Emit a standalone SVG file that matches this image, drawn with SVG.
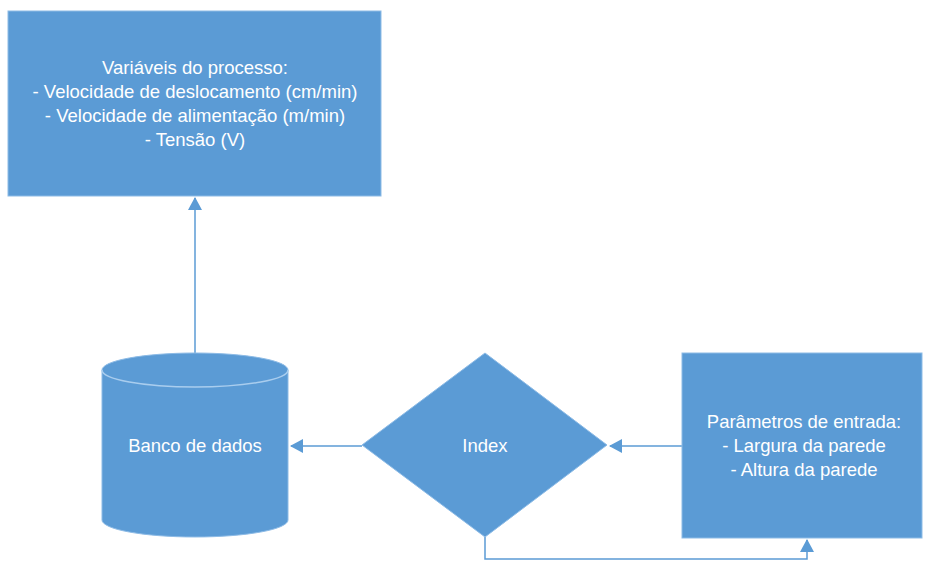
<svg xmlns="http://www.w3.org/2000/svg" width="926" height="561" viewBox="0 0 926 561">
<defs>
<style>
.shape{fill:#5B9BD5;stroke:#8DBBE6;stroke-width:1}
.lbl{font-family:"Liberation Sans",Arial,sans-serif;font-size:18.5px;fill:#FFFFFF;text-anchor:middle}
.conn{fill:none;stroke:#5B9BD5;stroke-width:1.5}
</style>
<marker id="arr" viewBox="0 0 13 14" refX="12" refY="7" markerWidth="13" markerHeight="14" markerUnits="userSpaceOnUse" orient="auto">
<path d="M0,0 L13,7 L0,14 Z" fill="#5B9BD5"/>
</marker>
</defs>
<rect width="926" height="561" fill="#FFFFFF"/>
<g id="connectors">
<path class="conn" d="M195,353 L195,198" marker-end="url(#arr)"/>
<path class="conn" d="M362,446 L291,446" marker-end="url(#arr)"/>
<path class="conn" d="M682,446 L610,446" marker-end="url(#arr)"/>
<path class="conn" d="M485,537 L485,559 L807,559 L807,540" marker-end="url(#arr)"/>
</g>
<g id="node-variaveis">
<rect class="shape" x="8" y="11" width="373" height="185"/>
<text class="lbl" x="195" y="74">Variáveis do processo:</text>
<text class="lbl" x="195" y="98">- Velocidade de deslocamento (cm/min)</text>
<text class="lbl" x="195" y="122">- Velocidade de alimentação (m/min)</text>
<text class="lbl" x="195" y="146">- Tensão (V)</text>
</g>
<g id="node-banco">
<path class="shape" d="M102,370 A93,17 0 0 1 288,370 L288,520 A93,17 0 0 1 102,520 Z"/>
<path d="M102,370 A93,17 0 0 0 288,370" fill="none" stroke="#A9CDEE" stroke-width="1.5"/>
<text class="lbl" x="195" y="452">Banco de dados</text>
</g>
<g id="node-index">
<polygon class="shape" points="485,353 607,445 485,537 362,445"/>
<text class="lbl" x="485" y="452">Index</text>
</g>
<g id="node-parametros">
<rect class="shape" x="682" y="353" width="240" height="185"/>
<text class="lbl" x="804" y="428">Parâmetros de entrada:</text>
<text class="lbl" x="804" y="452">- Largura da parede</text>
<text class="lbl" x="804" y="476">- Altura da parede</text>
</g>
</svg>
